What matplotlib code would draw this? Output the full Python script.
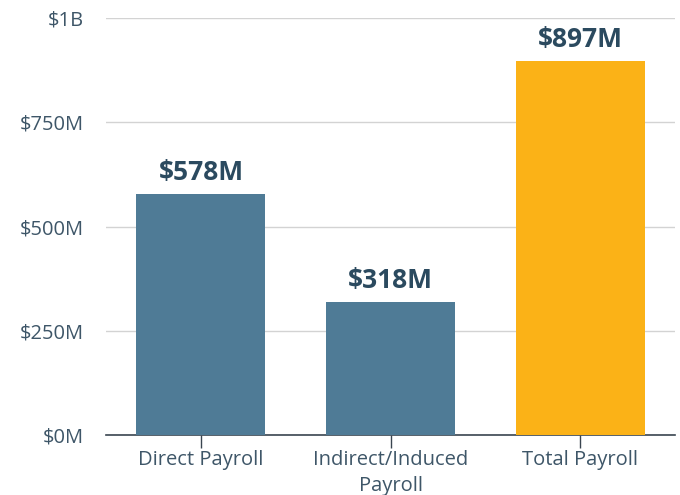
import matplotlib.pyplot as plt
from matplotlib.ticker import FuncFormatter

# payroll impact, in millions of dollars
categories = ["Direct Payroll", "Indirect/Induced\nPayroll", "Total Payroll"]
values = [578, 318, 897]
labels = ["$578M", "$318M", "$897M"]
bar_colors = ["#4f7b96", "#4f7b96", "#fbb217"]
yticks = [0, 250, 500, 750, 1000]

TEXT_DARK = "#2b4a5f"
TICK_COLOR = "#3e5668"

plt.rcParams['font.family'] = ['Open Sans', 'DejaVu Sans']

fig = plt.figure(figsize=(6.8, 4.95), dpi=100)
ax = fig.add_axes([0.156, 0.1212, 0.837, 0.8424])

x = range(len(categories))
bars = ax.bar(x, values, width=0.68, color=bar_colors, zorder=3)

for b, lab in zip(bars, labels):
    ax.annotate(lab, (b.get_x() + b.get_width() / 2, b.get_height()),
                xytext=(0, 6), textcoords="offset points",
                ha="center", va="bottom", fontsize=19, fontweight="bold",
                color=TEXT_DARK)

def money(v, pos):
    if v >= 1000:
        return "$%dB" % (v / 1000)
    return "$%dM" % v

ax.set_xlim(-0.5, 2.5)
ax.set_ylim(0, 1000)
ax.set_yticks(yticks)
ax.yaxis.set_major_formatter(FuncFormatter(money))
ax.set_xticks(list(x))
ax.set_xticklabels(categories, linespacing=1.35)

ax.grid(axis='y', color='#d3d3d3', linewidth=1, zorder=0)
for s in ['top', 'right', 'left']:
    ax.spines[s].set_visible(False)
ax.spines['bottom'].set_color('#3a4550')
ax.spines['bottom'].set_linewidth(1.2)

ax.tick_params(axis='y', length=0, pad=16, labelsize=14.5, labelcolor=TICK_COLOR)
ax.tick_params(axis='x', length=9, width=1, color='#3a4550', pad=2,
               labelsize=14.5, labelcolor=TICK_COLOR)

plt.savefig("out.png", dpi=100)
